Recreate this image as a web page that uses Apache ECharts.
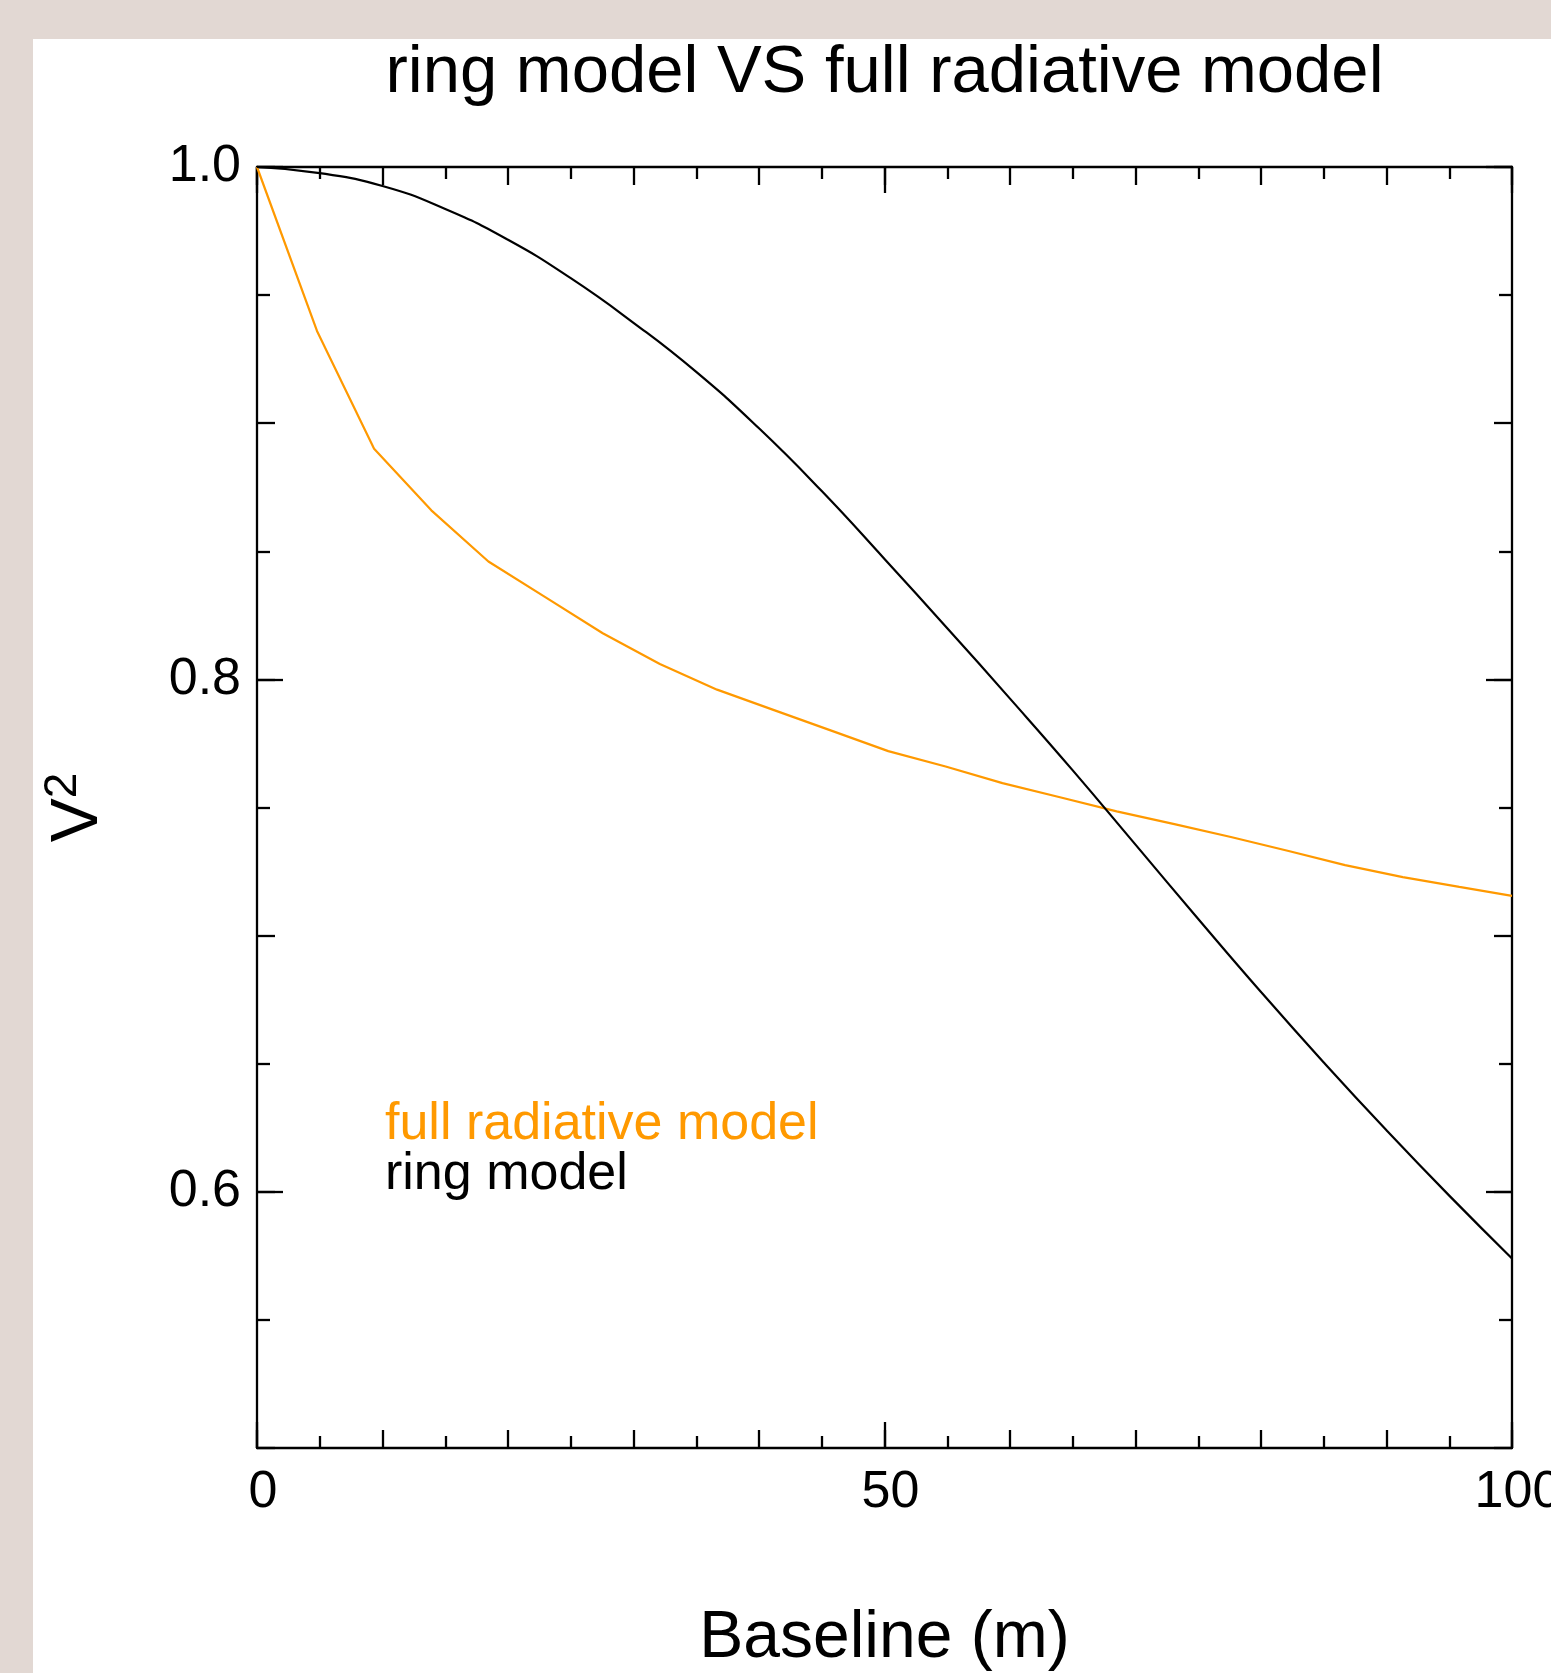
<!DOCTYPE html>
<html><head><meta charset="utf-8">
<script src="https://cdn.jsdelivr.net/npm/echarts@6/dist/echarts.min.js"></script>
<style>
html,body{margin:0;padding:0;width:1551px;height:1673px;overflow:hidden;background:#e2d8d3;}
#paper{position:absolute;left:33px;top:39px;right:0;bottom:0;background:#fff;}
#chart{position:absolute;left:0;top:0;width:1551px;height:1673px;}
</style></head><body>
<div id="paper"></div><div id="chart"></div>
<script>
// ---- data ----
const ringBaseline = [0,5,10,15,20,25,30,35,40,45,50,55,60,65,70,75,80,85,90,95,100];
const ringV2 = [1.000,0.9976,0.9926,0.9836,0.9716,0.9566,0.9392,0.9200,0.8980,0.8735,0.8470,0.8200,0.7925,0.7645,0.7355,0.7065,0.6780,0.6505,0.6240,0.5985,0.5740];
const radBaseline = [0,4.78,9.33,13.89,18.44,23.0,27.55,32.1,36.66,41.2,45.76,50.3,54.87,59.4,63.98,68.5,73.1,77.6,82.2,86.7,91.3,95.8,100];
const radV2 = [1.000,0.936,0.890,0.866,0.846,0.832,0.818,0.806,0.796,0.788,0.780,0.772,0.766,0.7595,0.754,0.7485,0.7435,0.7385,0.733,0.7275,0.7228,0.719,0.7155];
const xTickLabels = [0,50,100];
const yTickLabels = [0.6,0.8,1.0];
const seriesNames = ['full radiative model','ring model'];
const seriesColors = ['#ff9900','#000000'];

// ---- layout ----
const G = {left:257, top:167, width:1255, height:1281};
const FONT = '"Liberation Sans", Arial, Helvetica, sans-serif';
const tickStyle = {color:'#000', width:2.3};

function xAxisPair(pos, main){
  return [
    {type:'value', min:0, max:100, interval:10, position:pos,
     axisLine:{show:true, onZero:false, lineStyle:tickStyle},
     axisTick:{show:true, inside:true, length:18, lineStyle:tickStyle},
     minorTick:{show:true, splitNumber:2, length:12, lineStyle:tickStyle},
     splitLine:{show:false}, minorSplitLine:{show:false},
     axisLabel: main ? {show:true, customValues:xTickLabels, fontSize:52, color:'#000', fontFamily:FONT, margin:19, padding:[0,0,0,12]} : {show:false},
     name: main ? 'Baseline (m)' : '', nameLocation:'middle', nameGap:158,
     nameTextStyle:{fontSize:66, color:'#000', fontFamily:FONT}},
    {type:'value', min:0, max:100, position:pos,
     axisLine:{show:false, onZero:false},
     axisTick:{show:true, inside:true, length:26, customValues:xTickLabels, lineStyle:tickStyle},
     axisLabel:{show:false}, splitLine:{show:false}}
  ];
}
function yAxisPair(pos, main){
  return [
    {type:'value', min:0.5, max:1.0, interval:0.1, position:pos,
     axisLine:{show:true, onZero:false, lineStyle:tickStyle},
     axisTick:{show:true, inside:true, length:18, lineStyle:tickStyle},
     minorTick:{show:true, splitNumber:2, length:13, lineStyle:tickStyle},
     splitLine:{show:false}, minorSplitLine:{show:false},
     axisLabel: main ? {show:true, customValues:yTickLabels, fontSize:52, color:'#000', fontFamily:FONT, margin:16,
       padding:[5,0,0,0], formatter:v=>v.toFixed(1)} : {show:false},
     name: main ? '{v|V}{s|2}' : '', nameLocation:'middle', nameGap:139, nameRotate:90,
     nameTextStyle:{color:'#000', fontFamily:FONT,
       rich:{v:{fontSize:66, lineHeight:78, fontFamily:FONT, color:'#000'},
             s:{fontSize:46, lineHeight:46, verticalAlign:'top', fontFamily:FONT, color:'#000'}}}},
    {type:'value', min:0.5, max:1.0, position:pos,
     axisLine:{show:false, onZero:false},
     axisTick:{show:true, inside:true, length:26, customValues:yTickLabels, lineStyle:tickStyle},
     axisLabel:{show:false}, splitLine:{show:false}}
  ];
}

const chart = echarts.init(document.getElementById('chart'), null, {renderer:'canvas'});
chart.setOption({
  animation:false,
  backgroundColor:'transparent',
  title:{text:'ring model VS full radiative model', left:G.left + G.width/2, top:40, textAlign:'center',
    padding:0, textStyle:{fontSize:67, fontWeight:'normal', color:'#000', fontFamily:FONT}},
  grid:{left:G.left, top:G.top, width:G.width, height:G.height, containLabel:false, outerBoundsMode:'none'},
  legend:{orient:'vertical', left:380, top:1099, padding:0, itemGap:-2, itemWidth:0, itemHeight:14,
    icon:'none', selectedMode:false,
    textStyle:{fontSize:52, fontFamily:FONT},
    data:[{name:seriesNames[0], textStyle:{color:seriesColors[0]}},
          {name:seriesNames[1], textStyle:{color:seriesColors[1]}}]},
  xAxis:[...xAxisPair('bottom', true), ...xAxisPair('top', false)],
  yAxis:[...yAxisPair('left', true), ...yAxisPair('right', false)],
  series:[
    {name:seriesNames[0], type:'line', xAxisIndex:0, yAxisIndex:0,
     data:radBaseline.map((b,i)=>[b, radV2[i]]),
     symbol:'none', showSymbol:false, smooth:false,
     lineStyle:{color:seriesColors[0], width:2.2}, itemStyle:{color:seriesColors[0]}},
    {name:seriesNames[1], type:'line', xAxisIndex:0, yAxisIndex:0,
     data:ringBaseline.map((b,i)=>[b, ringV2[i]]),
     symbol:'none', showSymbol:false, smooth:0.5,
     lineStyle:{color:seriesColors[1], width:2.2}, itemStyle:{color:seriesColors[1]}}
  ]
});
</script>
</body></html>
